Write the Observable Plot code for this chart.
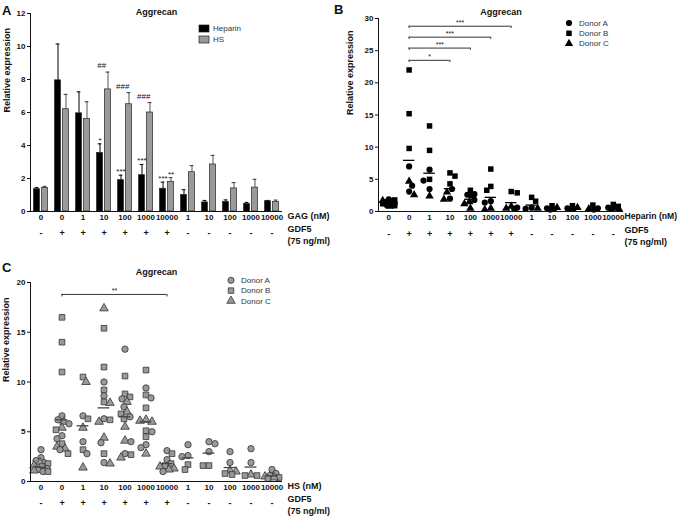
<!DOCTYPE html>
<html><head><meta charset="utf-8">
<script src="https://cdn.jsdelivr.net/npm/d3@7"></script>
<script src="https://cdn.jsdelivr.net/npm/@observablehq/plot@0.6"></script>
<style>
body{margin:0;background:#fff;}
#wrap{position:relative;width:680px;height:524px;font-family:"Liberation Sans",Arial,sans-serif;overflow:hidden;}
.panel{position:absolute;}
.panel svg{overflow:visible;}
</style></head><body><div id="wrap"></div>
<script>
// ---------- data ----------
const concLabels = ["0","0","1","10","100","1000","10000","1","10","100","1000","10000"];
const gdf5 = ["-","+","+","+","+","+","+","-","-","-","-","-"];
const series = ["Heparin","HS"];
const heparinMean = [1.35,7.95,5.95,3.55,1.9,2.2,1.38,1.0,0.55,0.58,0.45,0.62];
const heparinErr  = [0.1,2.2,1.3,0.55,0.3,0.65,0.4,0.32,0.12,0.12,0.1,0.05];
const hsMean = [1.42,6.2,5.6,7.4,6.5,6.0,1.8,2.38,2.85,1.4,1.45,0.57];
const hsErr  = [0.1,0.9,1.05,1.05,0.7,0.6,0.25,0.4,0.55,0.35,0.5,0.12];
const annotA = [
  {g:3, s:"Heparin", t:"*"}, {g:4, s:"Heparin", t:"***"}, {g:5, s:"Heparin", t:"***"},
  {g:6, s:"Heparin", t:"***"}, {g:6, s:"HS", t:"**"},
  {g:3, s:"HS", t:"##"}, {g:4, s:"HS", t:"###"}, {g:5, s:"HS", t:"###"}
];
const donors = ["Donor A","Donor B","Donor C"];
const bDonorA = [[1.9,1.6,1.3,1.0],[7.0,4.0,3.1],[6.5,4.8,3.5],[3.5,2.0],[2.7,2.6,1.8],[1.6,1.4],[0.6,0.4],[0.6,0.4],[0.5,0.3],[0.5,0.4],[0.5,0.3],[0.6,0.4]];
const bDonorB = [[1.8,1.5,1.2,0.9],[22.0,15.2,9.8],[13.3,9.5,5.0],[6.0,5.5,4.3],[3.3,2.5],[6.6,3.9,3.3],[3.1,2.9],[2.2,1.6],[0.9],[0.9],[1.0],[1.1,0.8]];
const bDonorC = [[1.7,1.4,1.1,0.8],[4.7,2.6],[2.4],[3.0,1.9],[1.5,1.2,0.5],[0.5,0.3],[0.8,0.5],[0.5],[0.6,0.4],[0.6,0.3],[0.4],[0.5,0.3]];
const cDonorA = [[3.2,2.4,2.1,1.9,1.3,1.0],[6.6,6.2,5.8,4.6,4.3,3.2],[6.6,4.0,2.8],[10.0,8.6,6.3,3.9,1.9],[13.3,8.3,7.5,6.5,4.0,2.8],[9.4,8.4,5.0,3.7,3.4],[3.1,2.2,1.0],[3.7,2.6,2.5],[4.0,3.8,3.0],[3.0,1.9],[3.3,1.9],[1.2,0.8,0.6]];
const cDonorB = [[1.8,1.5,1.2,1.0],[16.5,14.0,11.0,5.2,3.8,2.8],[10.5,6.3,3.2],[15.4,11.5,9.2,8.0,6.2,2.8],[10.6,8.8,8.5,6.8,6.3,2.7],[11.2,8.7,7.4,5.1,4.5],[2.8,1.8,1.6],[1.7,1.2],[1.6,1.6],[0.8,0.7],[0.6,0.6],[0.4,0.3]];
const cDonorC = [[1.9,1.6,1.1],[6.0,5.4,3.5,3.3],[10.0,5.4,1.4],[17.4,7.9,6.0,4.4,1.8],[8.0,7.0,5.5,4.1,2.4],[6.2,6.1,6.0,2.8],[1.5,1.3,1.2],[],[],[1.1,1.0],[0.7],[0.5,0.4]];
const bracketsB = [{from:1,to:3,y:23.5,t:"*"},{from:1,to:4,y:25.4,t:"***"},{from:1,to:5,y:27.1,t:"***"},{from:1,to:6,y:28.8,t:"***"}];
const bracketsC = [{from:1,to:6,y:18.8,t:"**"}];
const titleText = "Aggrecan";
const yLabel = "Relative expression";
const gdfLines = ["GDF5","(75 ng/ml)"];

// ---------- helpers ----------
const FONT = "'Liberation Sans', Arial, sans-serif";
const wrap = document.getElementById("wrap");
function place(node, left, top){const d=document.createElement("div");d.className="panel";d.style.left=left+"px";d.style.top=top+"px";d.appendChild(node);wrap.appendChild(d);}
const idx = d3.range(12);
const baseStyle = {fontFamily: FONT, fontSize: "8px", fontWeight: "bold", background: "transparent", overflow: "visible", color: "#111"};

// compact horizontal jitter (limited to +-maxPx pixels around each group centre)
function swarm(perDonor, pxX, pxY, diam, maxPx){
  const out=[];
  const cands=[0];
  for(let k=1;k<=maxPx;k++){cands.push(-k,k);}
  for(let g=0; g<12; g++){
    const pts=[];
    perDonor.forEach((arr,di)=>arr[g].forEach(v=>pts.push({g, donor: donors[di], v})));
    pts.sort((a,b)=>b.v-a.v);
    const placed=[];
    pts.forEach((p,j)=>{
      const py=p.v*pxY;
      const order = j%2 ? cands.map(c=>-c) : cands;
      let best=0, bestD=-1;
      for(const o of order){
        const dmin = placed.length ? d3.min(placed, q=>Math.hypot(q.o-o,q.py-py)) : Infinity;
        if(dmin>=diam*0.85){best=o; bestD=Infinity; break;}
        if(dmin>bestD){bestD=dmin; best=o;}
      }
      placed.push({o:best,py});
      out.push({...p, x: g+best/pxX});
    });
  }
  return out;
}

function commonText(rowDy, labelText, yDx, labelDx, labelSize){
  return [
    Plot.ruleY([0], {stroke:"#111", strokeWidth:1}),
    Plot.ruleX([-0.5], {stroke:"#111", strokeWidth:1}),
    Plot.text(idx, {x: d=>d, text: i=>gdf5[i], frameAnchor:"bottom", dy: rowDy, fontSize: 9, fontWeight:"bold", fill:"#111"}),
    Plot.text([labelText], {text: d=>d, frameAnchor:"bottom-right", textAnchor:"start", dx: labelDx, dy: 7, fontSize: labelSize, fontWeight:"bold", fill:"#111"}),
    Plot.text([gdfLines[0]], {text: d=>d, frameAnchor:"bottom-right", textAnchor:"start", dx: labelDx, dy: rowDy-4, fontSize: 9, fontWeight:"bold", fill:"#111"}),
    Plot.text([gdfLines[1]], {text: d=>d, frameAnchor:"bottom-right", textAnchor:"start", dx: labelDx, dy: rowDy+8, fontSize: 9, fontWeight:"bold", fill:"#111"}),
    Plot.text([yLabel], {text: d=>d, frameAnchor:"left", rotate:-90, dx: yDx, fontSize: 9, fontWeight:"bold", fill:"#111"})
  ];
}

// ---------- Panel A ----------
const off = {Heparin:-0.19, HS:0.19};
const aData = [];
idx.forEach(g=>{
  aData.push({g, s:"Heparin", m: heparinMean[g], e: heparinErr[g]});
  aData.push({g, s:"HS", m: hsMean[g], e: hsErr[g]});
});
const aTop = d => (d.s==="Heparin" ? heparinMean[d.g]+heparinErr[d.g] : hsMean[d.g]+hsErr[d.g]);
const plotA = Plot.plot({
  width: 340, height: 250, marginLeft: 30, marginRight: 58, marginTop: 13, marginBottom: 39,
  style: baseStyle,
  x: {domain:[-0.5,11.5], ticks: idx, tickFormat: i=>concLabels[i], tickSize:0, tickPadding:3, label:null},
  y: {domain:[0,12], ticks: d3.range(0,13,2), tickSize:3, tickPadding:2, label:null},
  marks: [
    Plot.ruleX(aData, {x: d=>d.g+off[d.s], y1: "m", y2: d=>d.m+d.e, stroke: d=>d.s==="Heparin"?"#000":"#555", strokeWidth:1}),
    Plot.ruleY(aData, {x1: d=>d.g+off[d.s]-0.09, x2: d=>d.g+off[d.s]+0.09, y: d=>d.m+d.e, stroke: d=>d.s==="Heparin"?"#000":"#333", strokeWidth:1}),
    Plot.rect(aData, {x1: d=>d.g+off[d.s]-0.14, x2: d=>d.g+off[d.s]+0.14, y1: 0, y2: "m", fill: d=>d.s==="Heparin"?"#000":"#9a9a9a", stroke:"#222", strokeWidth:0.7}),
    Plot.text(annotA.filter(d=>!d.t.startsWith("#")), {x: d=>d.g+off[d.s], y: aTop, text:"t", lineAnchor:"bottom", dy:-1, fontSize:8, fontWeight:"normal", fill:"#111"}),
    Plot.text(annotA.filter(d=>d.t.startsWith("#")), {x: d=>d.g+off[d.s]-0.3, y: aTop, text:"t", lineAnchor:"bottom", dy:-4, fontSize:8, fontWeight:"normal", fill:"#111"}),
    Plot.text([titleText], {text:d=>d, frameAnchor:"top", dy:-5, fontSize:9, fontWeight:"bold", fill:"#111"}),
    ...commonText(24, "GAG (nM)", -23, 5, 9)
  ]
});
place(plotA, 0, 0);

// ---------- Panel B ----------
const bPts = swarm([bDonorA,bDonorB,bDonorC], 20.4, 6.43, 6.2, 6);
const plotB = Plot.plot({
  width: 340, height: 250, marginLeft: 38, marginRight: 57, marginTop: 18, marginBottom: 39,
  style: baseStyle,
  x: {domain:[-0.5,11.5], ticks: idx, tickFormat: i=>concLabels[i], tickSize:0, tickPadding:3, label:null},
  y: {domain:[0,30], ticks: d3.range(0,31,5), tickSize:3, tickPadding:2, label:null},
  symbol: {domain: donors, range: ["circle","square","triangle"]},
  marks: [
    Plot.dot(bPts, {x:"x", y:"v", symbol:"donor", fill:"#000", r:3.1}),
    Plot.ruleY(idx, {x1: i=>i-0.28, x2: i=>i+0.28, y: i=>heparinMean[i], stroke:"#000", strokeWidth:1.3}),
    Plot.ruleY(bracketsB, {x1:"from", x2:"to", y:"y", stroke:"#333", strokeWidth:1}),
    Plot.ruleX(bracketsB, {x:"from", y1:"y", y2: d=>d.y-0.35, stroke:"#333", strokeWidth:1}),
    Plot.ruleX(bracketsB, {x:"to", y1:"y", y2: d=>d.y-0.35, stroke:"#333", strokeWidth:1}),
    Plot.text(bracketsB, {x: d=>(d.from+d.to)/2, y:"y", text:"t", lineAnchor:"bottom", dy:-1, fontSize:7, fontWeight:"normal", fill:"#111"}),
    Plot.text([titleText], {text:d=>d, frameAnchor:"top", dy:-10, fontSize:9, fontWeight:"bold", fill:"#111"}),
    ...commonText(25, "Heparin (nM)", -28, 1, 8.6)
  ]
});
place(plotB, 340, 0);

// ---------- Panel C ----------
const cPts = swarm([cDonorA,cDonorB,cDonorC], 21, 9.95, 6.6, 7);
const plotC = Plot.plot({
  width: 340, height: 274, marginLeft: 30, marginRight: 58, marginTop: 32, marginBottom: 43,
  style: baseStyle,
  x: {domain:[-0.5,11.5], ticks: idx, tickFormat: i=>concLabels[i], tickSize:0, tickPadding:3, label:null},
  y: {domain:[0,20], ticks: d3.range(0,21,5), tickSize:3, tickPadding:2, label:null},
  symbol: {domain: donors, range: ["circle","square","triangle"]},
  marks: [
    Plot.dot(cPts, {x:"x", y:"v", symbol:"donor", fill:"#999", stroke:"#333", strokeWidth:0.8, r:3.2}),
    Plot.ruleY(idx, {x1: i=>i-0.28, x2: i=>i+0.28, y: i=>hsMean[i], stroke:"#444", strokeWidth:1.3}),
    Plot.ruleY(bracketsC, {x1:"from", x2:"to", y:"y", stroke:"#333", strokeWidth:1}),
    Plot.ruleX(bracketsC, {x:"from", y1:"y", y2: d=>d.y-0.25, stroke:"#333", strokeWidth:1}),
    Plot.ruleX(bracketsC, {x:"to", y1:"y", y2: d=>d.y-0.25, stroke:"#333", strokeWidth:1}),
    Plot.text(bracketsC, {x: d=>(d.from+d.to)/2, y:"y", text:"t", lineAnchor:"bottom", dy:-1, fontSize:7, fontWeight:"normal", fill:"#111"}),
    Plot.text([titleText], {text:d=>d, frameAnchor:"top", dy:-14, fontSize:9, fontWeight:"bold", fill:"#111"}),
    ...commonText(24, "HS (nM)", -24, 5, 9)
  ]
});
place(plotC, 0, 250);

// ---------- overlay: panel letters and legends ----------
const ov = d3.select(wrap).append("svg").attr("width",680).attr("height",524)
  .style("position","absolute").style("left","0px").style("top","0px").style("pointer-events","none")
  .style("font-family", FONT);
const letters = [["A",2,15],["B",334,14],["C",2,272]];
ov.selectAll("text.letter").data(letters).join("text").attr("class","letter")
  .attr("x",d=>d[1]).attr("y",d=>d[2]).text(d=>d[0]).attr("font-size",13).attr("font-weight","bold").attr("fill","#111");

// legend A
const legA = ov.append("g");
series.forEach((s,i)=>{
  const y = 28.5 + i*11;
  legA.append("rect").attr("x",199).attr("y",y-3.5).attr("width",10).attr("height",7)
    .attr("fill", i===0?"#000":"#9a9a9a").attr("stroke","#222").attr("stroke-width",0.7);
  legA.append("text").attr("x",213).attr("y",y).attr("dy","0.35em").attr("font-size",8).attr("fill","#333").text(s);
});
const symTypes = [d3.symbolCircle, d3.symbolSquare, d3.symbolTriangle];
function donorLegend(x, y0, step, fill, stroke){
  const g = ov.append("g");
  donors.forEach((dn,i)=>{
    const y = y0 + i*step;
    g.append("path").attr("d", d3.symbol(symTypes[i], Math.PI*3.1*3.1)())
      .attr("transform",`translate(${x},${y})`).attr("fill",fill).attr("stroke",stroke).attr("stroke-width",stroke==="none"?0:0.8);
    g.append("text").attr("x",x+10).attr("y",y).attr("dy","0.35em").attr("font-size",8).attr("fill","#333").text(dn);
  });
}
donorLegend(569, 23, 10.3, "#000", "none");
donorLegend(231, 280.3, 10.3, "#999", "#333");
</script></body></html>
